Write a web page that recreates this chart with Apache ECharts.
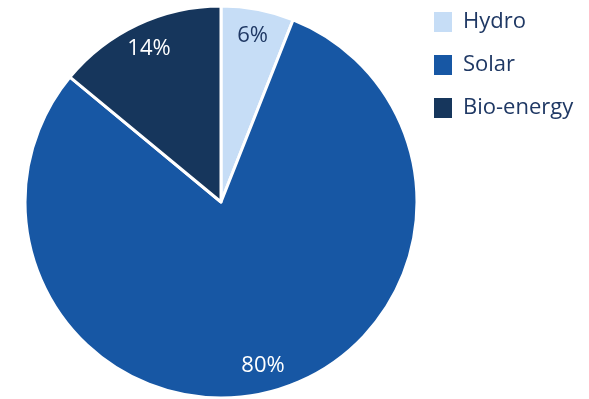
<!DOCTYPE html>
<html><head><meta charset="utf-8">
<script src="https://cdn.jsdelivr.net/npm/echarts@6/dist/echarts.min.js"></script>
<style>html,body{margin:0;padding:0;background:#fff}#c{width:589px;height:399px}</style>
</head><body><div id="c"></div>
<script>
const categories = ['Hydro', 'Solar', 'Bio-energy'];
const values = [6, 80, 14];
const colors = ['#c6ddf6', '#1757a4', '#16365c'];
const labelColors = ['#1f3864', '#ffffff', '#ffffff'];

const FONT = '"Open Sans", Lato, sans-serif';
const chart = echarts.init(document.getElementById('c'), null, {renderer: 'canvas'});
const pieData = categories.map((n, i) => ({name: n, value: values[i], itemStyle: {color: colors[i]}}));
const labelData = categories.map((n, i) => ({name: n, value: values[i],
  label: {color: labelColors[i]}}));
chart.setOption({
  animation: false,
  legend: {
    orient: 'vertical', left: 427, top: 5,
    itemWidth: 20, itemHeight: 22, itemGap: 19,
    icon: 'rect',
    data: categories,
    textStyle: {fontFamily: FONT, fontSize: 22, lineHeight: 24, color: '#1f3864', padding: [0, 0, 0, 5]}
  },
  series: [
    {
      type: 'pie', center: [221, 202], radius: [0, 196],
      startAngle: 90, clockwise: true,
      data: pieData,
      itemStyle: {borderColor: '#fff', borderWidth: 3},
      label: {show: false}, labelLine: {show: false},
      emphasis: {disabled: true}
    },
    {
      type: 'pie', center: [221, 202], radius: [136, 196],
      startAngle: 90, clockwise: true, silent: true,
      legendHoverLink: false,
      data: labelData,
      itemStyle: {color: 'rgba(0,0,0,0)', borderWidth: 0},
      label: {show: true, position: 'inside', formatter: p => p.value + '%',
        fontFamily: FONT, fontSize: 22},
      labelLine: {show: false},
      emphasis: {disabled: true}
    }
  ]
});
</script></body></html>
